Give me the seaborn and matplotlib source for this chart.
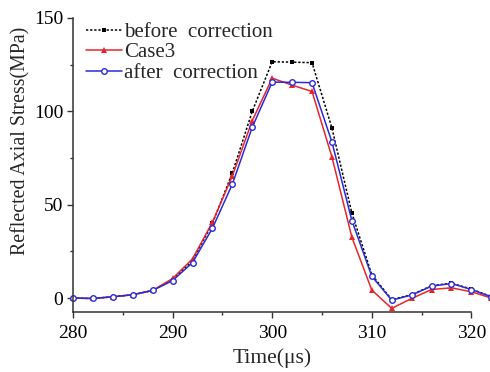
import numpy as np
import pandas as pd
import matplotlib
matplotlib.use("Agg")
import matplotlib.pyplot as plt
import seaborn as sns
from matplotlib.ticker import MultipleLocator

time_us = [280, 282, 284, 286, 288, 290, 292, 294, 296, 298, 300, 302, 304, 306, 308, 310, 312, 314, 316, 318, 320, 322]
before = [0, -0.2, 0.7, 1.8, 4.1, 9.8, 20, 40, 67, 100, 126.5, 126.3, 126, 91, 45.5, 12.5, -0.8, 1.8, 6.6, 8.0, 4.8, 0.8]
case3 = [0, -0.2, 0.7, 1.8, 4.1, 10.5, 21, 40.6, 65.4, 95, 117.7, 114, 110.6, 75.5, 32.6, 4.3, -5.5, -0.2, 4.6, 5.5, 3.4, 0]
after = [0, -0.2, 0.7, 1.8, 4.1, 9.4, 19, 37.4, 61, 91.5, 115.6, 115.5, 115.3, 83.5, 41.5, 11.7, -1.1, 1.6, 6.4, 7.8, 4.6, 0.7]
labels = ["before  correction", "Case3", "after  correction"]

sns.set_theme(style="ticks")
plt.rcParams['font.family'] = ['Liberation Serif', 'DejaVu Serif']

fig = plt.figure(figsize=(4.9, 3.72), dpi=100)
ax = fig.add_axes([0.149, 0.161, 0.813, 0.791])

df = pd.DataFrame({"t": time_us, "before": before, "case3": case3, "after": after})
sns.lineplot(data=df, x="t", y="before", ax=ax, color="black", linestyle=(0, (1.5, 1.2)),
             linewidth=1.1, marker="s", markersize=3.5, markeredgewidth=0, label=labels[0],
             clip_on=False)
sns.lineplot(data=df, x="t", y="case3", ax=ax, color="#e8262a", linewidth=1.1,
             marker="^", markersize=4, markeredgewidth=0, label=labels[1], clip_on=False)
sns.lineplot(data=df, x="t", y="after", ax=ax, color="#2b2bd6", linewidth=1.1,
             marker="o", markersize=4, markerfacecolor="white", markeredgecolor="#2b2bd6",
             markeredgewidth=1.0, label=labels[2], clip_on=False)

ax.set_xlim(280, 320)
ax.set_ylim(-7.5, 150)
ax.xaxis.set_major_locator(MultipleLocator(10))
ax.xaxis.set_minor_locator(MultipleLocator(5))
ax.yaxis.set_major_locator(MultipleLocator(50))
ax.yaxis.set_minor_locator(MultipleLocator(25))
ax.tick_params(which="major", length=4.5, width=1, labelsize=14, direction="out",
               colors="#333333", labelcolor="black")
ax.tick_params(axis="x", which="major", pad=5)
ax.tick_params(axis="y", which="major", pad=2.5)
ax.tick_params(which="minor", length=2.5, width=1, direction="out", colors="#333333")
for s in ["top", "right"]:
    ax.spines[s].set_visible(False)
for s in ["left", "bottom"]:
    ax.spines[s].set_color("#333333")
    ax.spines[s].set_linewidth(1.1)

ax.set_xlabel("Time(μs)", fontsize=15.5)
ax.xaxis.set_label_coords(0.5, -0.122)
ax.set_ylabel("Reflected Axial Stress(MPa)", fontsize=14.3)
ax.yaxis.set_label_coords(-0.108, 0.582)

leg = ax.legend(loc="upper left", bbox_to_anchor=(0.0, 1.027), frameon=False, fontsize=15,
                handlelength=1.75, handletextpad=0.12, labelspacing=0.04, borderaxespad=0.2)

fig.savefig("out.png", dpi=100)
